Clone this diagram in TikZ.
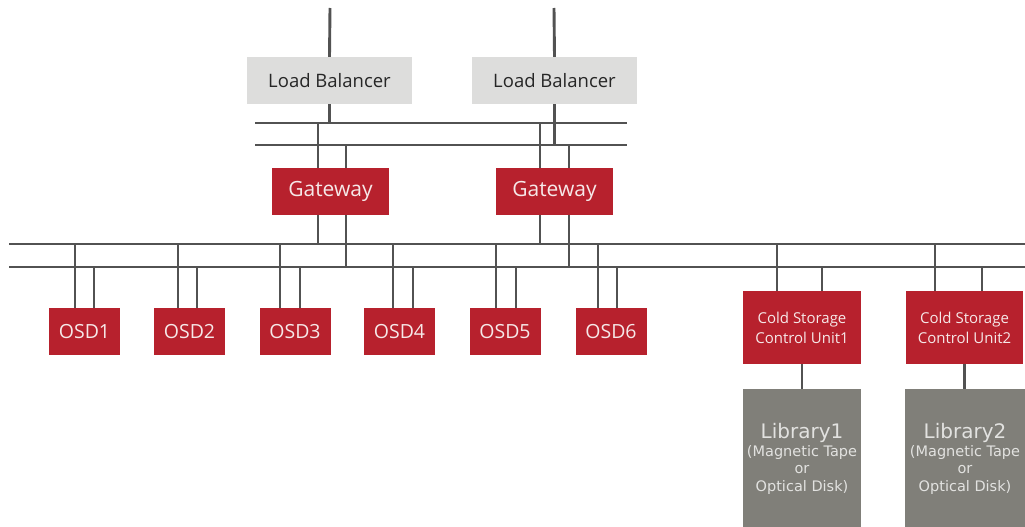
\documentclass[tikz,border=0pt]{standalone}
\usepackage{fontspec}
\setmainfont{Open Sans}
\newfontfamily\libfont{DejaVu Sans}
\definecolor{wire}{RGB}{82,82,82}
\definecolor{unitred}{RGB}{183,33,45}
\definecolor{lbgray}{RGB}{221,221,220}
\definecolor{libgray}{RGB}{128,127,121}
\definecolor{redtext}{RGB}{246,232,232}
\definecolor{libtext}{RGB}{226,226,224}
\tikzset{
  wireline/.style={draw=wire, line width=2.9pt},
  lbbox/.style={fill=lbgray, minimum width=165pt, minimum height=47pt, inner sep=0pt,
    text=black!85, font=\fontsize{18.5}{22}\selectfont},
  gwbox/.style={fill=unitred, minimum width=117pt, minimum height=47pt, inner sep=0pt,
    text=redtext, font=\fontsize{21}{24}\selectfont},
  osdbox/.style={fill=unitred, minimum width=71pt, minimum height=47pt, inner sep=0pt,
    text=redtext, font=\fontsize{19.5}{22}\selectfont},
  csbox/.style={fill=unitred, minimum width=118pt, minimum height=73pt, inner sep=0pt,
    text=redtext, align=center, font=\fontsize{15}{20}\selectfont},
  libbox/.style={fill=libgray, minimum width=118pt, minimum height=140pt, inner sep=0pt,
    text=libtext, align=center, font=\libfont\fontsize{14.5}{17.5}\selectfont}
}
\begin{document}
\begin{tikzpicture}[x=1pt,y=-1pt]
\useasboundingbox (0,0) rectangle (1025,527);

% bus end points: upper pair behind the load balancers, lower pair for the devices
\coordinate (upA1) at (255,123); \coordinate (upA2) at (627,123);
\coordinate (upB1) at (255,145); \coordinate (upB2) at (627,145);
\coordinate (loA1) at (9,244);   \coordinate (loA2) at (1025,244);
\coordinate (loB1) at (9,267);   \coordinate (loB2) at (1025,267);
\coordinate (in1) at (330,8);    \coordinate (in2) at (554,8);

% load balancers
\node[lbbox] (lb1) at (329.5,80.5) {Load Balancer};
\node[lbbox] (lb2) at (554.5,80.5) {Load Balancer};

% gateways
\node[gwbox] (gw1) at (330.5,191.5) {Gateway};
\node[gwbox] (gw2) at (554.5,191.5) {Gateway};

% object storage devices
\node[osdbox] (osd1) at (84.5,331.5) {OSD1};
\node[osdbox] (osd2) at (189.5,331.5) {OSD2};
\node[osdbox] (osd3) at (295,331.5) {OSD3};
\node[osdbox] (osd4) at (399.5,331.5) {OSD4};
\node[osdbox] (osd5) at (505,331.5) {OSD5};
\node[osdbox] (osd6) at (611,331.5) {OSD6};

% cold storage control units
\node[csbox] (cs1) at (802,327.5) {Cold Storage\\Control Unit1};
\node[csbox, minimum width=117pt] (cs2) at (964.5,327.5) {Cold Storage\\Control Unit2};

% libraries
\node[libbox] (lib1) at (802,459) {{\fontsize{20}{22}\selectfont Library1}\\(Magnetic Tape\\or\\Optical Disk)};
\node[libbox, minimum width=120pt] (lib2) at (965,459) {{\fontsize{20}{22}\selectfont Library2}\\(Magnetic Tape\\or\\Optical Disk)};

% bus lines
\draw[wireline] (upA1) -- (upA2);
\draw[wireline] (upB1) -- (upB2);
\draw[wireline] (loA1) -- (loA2);
\draw[wireline] (loB1) -- (loB2);

% incoming links and load balancer taps
\draw[wireline] (in1) -- (lb1.north);
\draw[wireline] (in2) -- (lb2.north);
\draw[wireline] (lb1.south) -- (lb1.south |- upA1);
\draw[wireline] (lb2.south) -- (lb2.south |- upB1);

% gateway taps
\draw[wireline] ([xshift=-12.5pt]gw1.north) -- ([xshift=-12.5pt]gw1.north |- upA1);
\draw[wireline] ([xshift=15.5pt]gw1.north) -- ([xshift=15.5pt]gw1.north |- upB1);
\draw[wireline] ([xshift=-14.5pt]gw2.north) -- ([xshift=-14.5pt]gw2.north |- upA1);
\draw[wireline] ([xshift=14.5pt]gw2.north) -- ([xshift=14.5pt]gw2.north |- upB1);
\draw[wireline] ([xshift=-12.5pt]gw1.south) -- ([xshift=-12.5pt]gw1.south |- loA1);
\draw[wireline] ([xshift=15.5pt]gw1.south) -- ([xshift=15.5pt]gw1.south |- loB1);
\draw[wireline] ([xshift=-14.5pt]gw2.south) -- ([xshift=-14.5pt]gw2.south |- loA1);
\draw[wireline] ([xshift=14.5pt]gw2.south) -- ([xshift=14.5pt]gw2.south |- loB1);

% device taps: first link to the upper device bus, second to the lower one
\foreach \n/\a/\b in {osd1/-9.5/9.5, osd2/-11.5/7.5, osd3/-15/5, osd4/-6.5/13.5,
                      osd5/-9/11, osd6/-13/6, cs1/-25/20, cs2/-29.5/17.5} {
  \draw[wireline] ([xshift=\a pt]\n.north) -- ([xshift=\a pt]\n.north |- loA1);
  \draw[wireline] ([xshift=\b pt]\n.north) -- ([xshift=\b pt]\n.north |- loB1);
}

% control units to libraries
\draw[wireline] (cs1.south) -- (lib1.north -| cs1.south);
\draw[wireline] (cs2.south) -- (lib2.north -| cs2.south);
\end{tikzpicture}
\end{document}
